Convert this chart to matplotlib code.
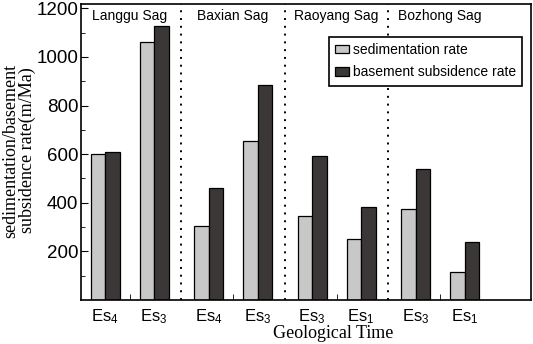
import numpy as np
import matplotlib
matplotlib.use('Agg')
import matplotlib.pyplot as plt

plt.rcParams['font.family'] = ['Liberation Sans', 'DejaVu Sans']
plt.rcParams['mathtext.fontset'] = 'custom'
plt.rcParams['mathtext.rm'] = 'Liberation Sans'
plt.rcParams['mathtext.it'] = 'Liberation Sans'

# data
sags = ["Langgu Sag", "Baxian Sag", "Raoyang Sag", "Bozhong Sag"]
stages = [r"Es$_4$", r"Es$_3$", r"Es$_4$", r"Es$_3$", r"Es$_3$", r"Es$_1$", r"Es$_3$", r"Es$_1$"]
sag_of = [0, 0, 1, 1, 2, 2, 3, 3]
sed_rate = [600, 1062, 304, 656, 346, 251, 374, 114]
subs_rate = [610, 1127, 459, 886, 591, 383, 539, 239]

LIGHT = "#c8c8c8"
DARK = "#3b3737"

sag_of = np.array(sag_of)
within = np.array([0, 1] * 4)
x = sag_of * 2.07 + within * 0.98
w = 0.29

fig = plt.figure(figsize=(5.33, 3.44), dpi=100)
ax = fig.add_axes([81 / 533, 44 / 344, 450 / 533, 296 / 344])

ax.bar(x - w / 2, sed_rate, w, color=LIGHT, edgecolor="black", linewidth=0.9,
       label="sedimentation rate", zorder=2)
ax.bar(x + w / 2, subs_rate, w, color=DARK, edgecolor="black", linewidth=0.9,
       label="basement subsidence rate", zorder=2)

ax.set_xlim(-0.48, 8.52)
ax.set_ylim(0, 1218)

# sag boundaries and names
for k in range(len(sags)):
    xs = x[sag_of == k]
    ax.text(xs.mean(), 1198, sags[k], ha="center", va="top", fontsize=10)
    if k > 0:
        prev = x[sag_of == k - 1].max()
        ax.axvline((prev + xs.min()) / 2, color="black", linestyle=(0, (1, 3)),
                   linewidth=1.4, zorder=1)

ax.set_yticks([200, 400, 600, 800, 1000, 1200])
ax.set_yticks(np.arange(100, 1200, 200), minor=True)
ax.tick_params(axis="y", which="major", direction="in", length=5, labelsize=13.5, pad=2)
ax.tick_params(axis="y", which="minor", direction="in", length=3)

ax.set_xticks(x)
ax.set_xticklabels(stages)
ax.set_xticks([x[sag_of == k].mean() for k in range(len(sags))], minor=True)
ax.tick_params(axis="x", which="major", length=0, labelsize=12, pad=5)
ax.tick_params(axis="x", which="minor", direction="in", length=4)

for s in ax.spines.values():
    s.set_linewidth(1.2)

ax.set_ylabel("sedimentation/basement\nsubsidence rate(m/Ma)", family="Liberation Serif",
              fontsize=13, linespacing=0.95)
ax.yaxis.set_label_coords(-0.1, 0.505)
ax.set_xlabel("Geological Time", family="Liberation Serif", fontsize=13)
ax.xaxis.set_label_coords(0.56, -0.085)

leg = ax.legend(loc="upper right", bbox_to_anchor=(0.98, 0.889), borderaxespad=0,
                fancybox=False, edgecolor="black", framealpha=1, fontsize=10,
                handlelength=1.0, handleheight=0.55, handletextpad=0.25,
                borderpad=0.45, labelspacing=0.6)
leg.get_frame().set_linewidth(1.2)

fig.savefig("out.png", dpi=100)
